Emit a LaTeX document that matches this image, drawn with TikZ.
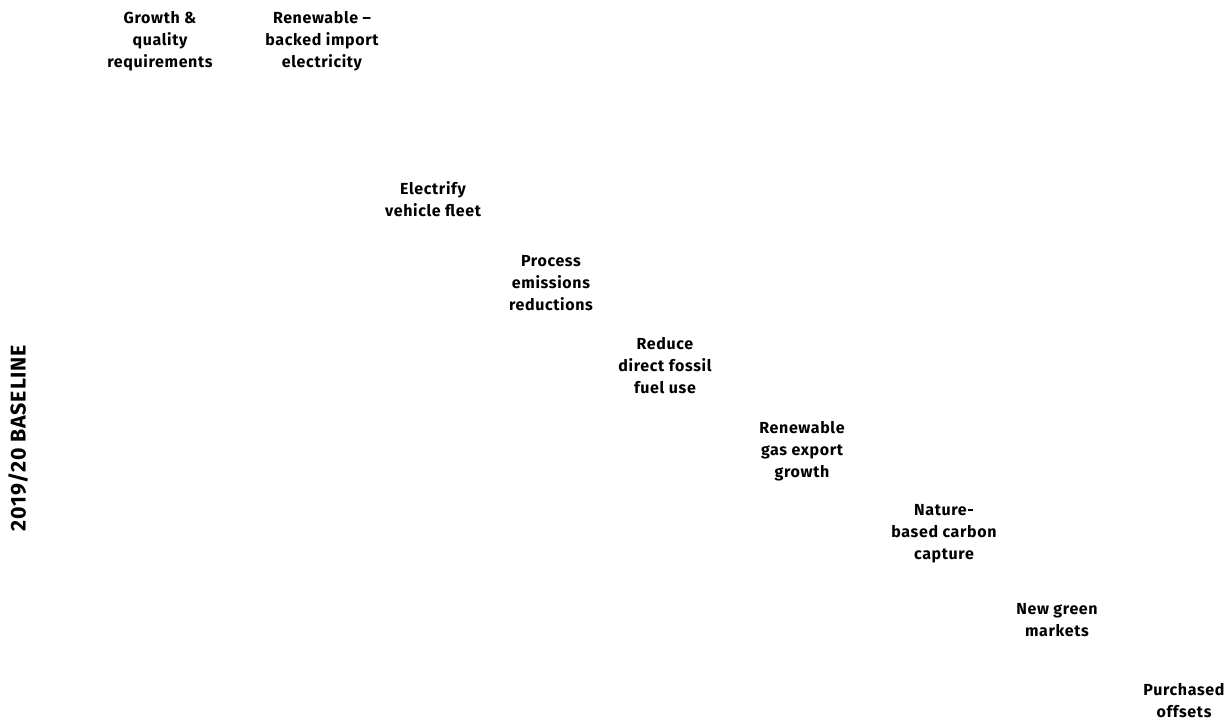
\documentclass[tikz,border=0pt]{standalone}
\usepackage{fontspec}
\setmainfont{Fira Sans}
\newfontfamily\leverfont[LetterSpace=4]{Fira Sans}
\usetikzlibrary{positioning}

\begin{document}
\begin{tikzpicture}[x=0.75pt, y=-0.75pt,
  lever/.style={font=\leverfont\bfseries\fontsize{12}{16.5}\selectfont, align=center, inner sep=0pt},
  baseline label/.style={font=\leverfont\bfseries\fontsize{16}{18}\selectfont, rotate=90, inner sep=0pt}]

% Fix the page to the reference size
\useasboundingbox (0,0) rectangle (1231,722);

% Vertical axis label
\node[baseline label] (base) at (18,438) {2019/20 BASELINE};

% The reduction levers, stepping down left to right
\node[lever] (growth) at (160,41) {Growth \&\\quality\\requirements};
\node[lever] (import) at (322,41) {Renewable \textendash\\backed import\\electricity};
\node[lever] (fleet) at (433,199) {Electrify\\vehicle fleet};
\node[lever] (process) at (551,283) {Process\\emissions\\reductions};
\node[lever] (fossil) at (665,366) {Reduce\\direct fossil\\fuel use};
\node[lever] (gas) at (802,451) {Renewable\\gas export\\growth};
\node[lever] (nature) at (944,534) {Nature-\\based carbon\\capture};
\node[lever] (markets) at (1057,620) {New green\\markets};
\node[lever] (offsets) at (1184,701) {Purchased\\offsets};

\end{tikzpicture}
\end{document}
